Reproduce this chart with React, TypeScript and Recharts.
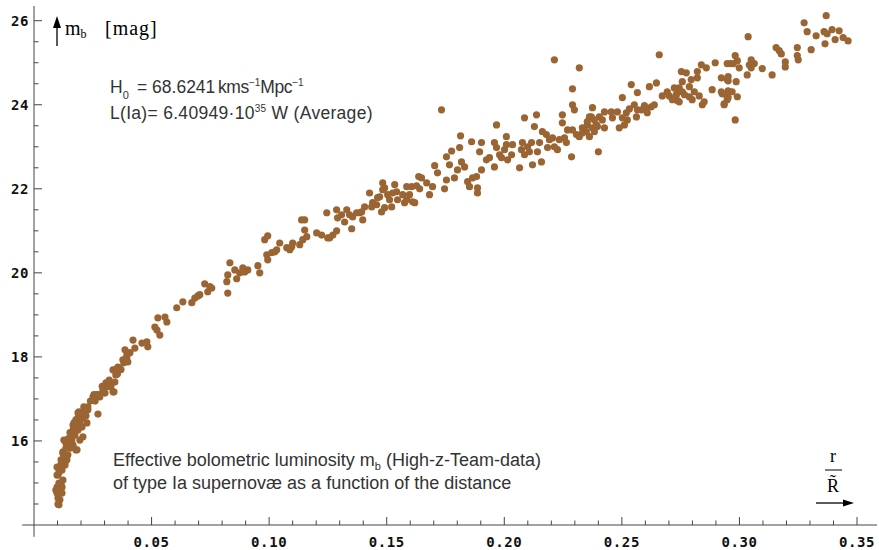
import { ScatterChart, Scatter, XAxis, YAxis, ReferenceLine } from "recharts";

// supernova samples [r / R~, m_b]
const nearSN: [number, number][] = [
  [0.0106, 14.48], [0.0102, 14.5], [0.011, 14.6], [0.0102, 14.64], [0.0098, 14.76], [0.0119, 14.76],
  [0.0093, 14.83], [0.0098, 14.9], [0.0119, 14.9], [0.0115, 14.95], [0.0106, 15.0], [0.0123, 15.07],
  [0.0098, 15.19], [0.0102, 15.19], [0.0106, 15.25], [0.0119, 15.31], [0.0106, 15.36], [0.0098, 15.38],
  [0.0132, 15.43], [0.0115, 15.45], [0.0115, 15.55], [0.014, 15.55], [0.0127, 15.6], [0.0144, 15.67],
  [0.0123, 15.71], [0.0123, 15.74], [0.0178, 15.79], [0.0183, 15.79], [0.0136, 15.83], [0.0153, 15.83],
  [0.0149, 15.9], [0.0166, 15.9], [0.0136, 15.95], [0.0127, 16.02], [0.0161, 16.02], [0.0195, 16.02],
  [0.0144, 16.05], [0.0157, 16.1], [0.0208, 16.1], [0.0174, 16.14], [0.0153, 16.2], [0.0166, 16.26],
  [0.0187, 16.26], [0.017, 16.3], [0.0204, 16.33], [0.0183, 16.35], [0.0166, 16.38], [0.017, 16.43],
  [0.0225, 16.43], [0.0195, 16.45], [0.0178, 16.5], [0.0187, 16.55], [0.0208, 16.55], [0.0208, 16.57],
  [0.02, 16.6], [0.0221, 16.6], [0.0272, 16.64], [0.0187, 16.67], [0.0191, 16.69], [0.0217, 16.69],
  [0.0229, 16.74], [0.0212, 16.81], [0.0229, 16.81], [0.024, 16.95], [0.026, 16.95], [0.0251, 17.05],
  [0.028, 17.05], [0.0255, 17.1], [0.0268, 17.1], [0.0276, 17.1], [0.0302, 17.14], [0.034, 17.17],
  [0.0336, 17.17], [0.0293, 17.21], [0.0327, 17.29], [0.031, 17.29], [0.029, 17.3], [0.0306, 17.38],
  [0.0323, 17.38], [0.0344, 17.4], [0.032, 17.45], [0.0348, 17.57], [0.0355, 17.6], [0.0344, 17.69],
  [0.0336, 17.69], [0.037, 17.7], [0.0361, 17.74], [0.0357, 17.76], [0.0382, 17.86], [0.0399, 17.88],
  [0.0378, 17.93],
];

const midSN: [number, number][] = [
  [0.0395, 18.0], [0.0395, 18.05], [0.0408, 18.1], [0.0387, 18.17], [0.0421, 18.4], [0.0429, 18.21],
  [0.0459, 18.33], [0.048, 18.36], [0.0484, 18.24], [0.0514, 18.71], [0.0523, 18.64], [0.0535, 18.52],
  [0.0527, 18.93], [0.0557, 18.95], [0.0565, 18.83], [0.0607, 19.17], [0.0633, 19.31], [0.0671, 19.29],
  [0.0684, 19.4], [0.0697, 19.45], [0.0705, 19.48], [0.0726, 19.74], [0.0739, 19.55], [0.0748, 19.67],
  [0.0756, 19.64], [0.082, 19.79], [0.0824, 19.95], [0.0824, 19.52], [0.0833, 20.24], [0.0854, 20.07],
  [0.0862, 19.86], [0.0875, 20.0], [0.0888, 20.12], [0.0896, 20.02], [0.0909, 20.07], [0.0952, 20.17],
  [0.096, 20.0], [0.0981, 20.79], [0.0994, 20.88], [0.0994, 20.31], [0.099, 20.43], [0.1011, 20.48],
  [0.1024, 20.5], [0.1032, 20.55], [0.1045, 20.71], [0.1075, 20.6], [0.1088, 20.55], [0.1096, 20.62],
  [0.11, 20.71], [0.113, 20.67], [0.1138, 21.26], [0.1143, 20.79], [0.1151, 21.02], [0.1151, 21.26],
  [0.116, 20.86], [0.1202, 20.95], [0.1223, 20.9], [0.1245, 21.43], [0.1249, 20.83],
];

const farSN: [number, number][] = [
  [0.1257, 20.83], [0.1271, 20.9], [0.1287, 21.5], [0.1287, 21.0], [0.1291, 21.31], [0.1308, 21.38],
  [0.1321, 21.21], [0.133, 21.5], [0.1342, 21.38], [0.1351, 21.05], [0.1355, 21.33], [0.1372, 21.43],
  [0.1385, 21.43], [0.1393, 21.45], [0.1398, 21.26], [0.1406, 21.57], [0.1427, 21.9], [0.1436, 21.57],
  [0.144, 21.67], [0.1457, 21.62], [0.1461, 21.79], [0.147, 21.81], [0.1478, 21.45], [0.1483, 22.14],
  [0.1483, 21.98], [0.1491, 22.02], [0.1491, 21.55], [0.1504, 21.86], [0.1512, 21.74], [0.1521, 21.57],
  [0.1525, 21.9], [0.1534, 22.1], [0.1542, 21.93], [0.1546, 21.74], [0.1568, 21.86], [0.1576, 21.67],
  [0.1585, 22.05], [0.1585, 21.74], [0.1597, 21.86], [0.1606, 22.05], [0.161, 21.69], [0.1619, 21.67],
  [0.1627, 22.07], [0.1636, 22.29], [0.164, 22.0], [0.1648, 22.26],
  [0.167, 22.14], [0.1682, 21.86], [0.1695, 22.05], [0.1704, 22.55], [0.1716, 22.38], [0.1733, 23.88],
  [0.1746, 22.0], [0.1754, 22.21], [0.1754, 22.76], [0.1767, 22.57], [0.1776, 22.9], [0.1788, 22.26],
  [0.1801, 22.45], [0.1814, 23.26], [0.181, 22.98], [0.1818, 22.64], [0.1831, 22.52], [0.1844, 22.17],
  [0.1852, 22.05], [0.1861, 23.12], [0.1865, 22.26], [0.1882, 22.29], [0.1886, 22.02], [0.1886, 21.9],
  [0.1895, 22.88], [0.1903, 23.1], [0.1903, 22.45], [0.1924, 22.69], [0.1937, 22.74], [0.1958, 22.52],
  [0.1958, 23.1], [0.1967, 23.52], [0.1967, 22.98], [0.198, 22.81], [0.1988, 22.74], [0.2001, 22.93],
  [0.2009, 23.24], [0.2009, 23.05], [0.2014, 22.69], [0.2031, 22.81], [0.2035, 23.05], [0.2065, 22.5],
  [0.2073, 22.93], [0.2077, 23.1], [0.2086, 23.69], [0.2086, 22.81], [0.2099, 23.0], [0.2107, 22.88],
  [0.2116, 23.1], [0.212, 22.57], [0.2128, 23.48], [0.2137, 23.76], [0.2141, 22.88], [0.215, 23.1],
  [0.2158, 22.64], [0.2162, 23.36], [0.2179, 23.29], [0.2184, 22.98], [0.2192, 23.17], [0.2205, 23.21],
  [0.2213, 23.0], [0.2213, 25.07], [0.2226, 22.93], [0.2234, 23.17], [0.2247, 23.76], [0.2247, 23.57],
  [0.2256, 23.21], [0.2264, 23.1], [0.2269, 23.4], [0.2286, 22.76], [0.229, 24.38], [0.229, 24.0],
  [0.2298, 23.88], [0.229, 23.4], [0.2307, 23.29], [0.2319, 23.24], [0.2319, 24.88], [0.2332, 23.45],
  [0.2349, 23.36], [0.2353, 23.6], [0.237, 23.71], [0.2375, 23.93], [0.2383, 23.36], [0.2396, 23.48],
  [0.24, 22.88],
];

const farthestSN: [number, number][] = [
  [0.2659, 25.19], [0.2753, 24.79], [0.2774, 24.76], [0.2821, 24.79], [0.2838, 24.95], [0.2859, 24.88],
  [0.2897, 25.0], [0.2948, 24.98], [0.2923, 24.64], [0.2948, 24.6], [0.2795, 24.6], [0.2821, 24.64],
  [0.2757, 24.55], [0.2744, 24.4], [0.2723, 24.4], [0.2787, 24.43], [0.2757, 24.31], [0.2736, 24.31],
  [0.2693, 24.31], [0.2672, 24.21], [0.2702, 24.21], [0.2715, 24.12], [0.2736, 24.1], [0.2732, 24.24],
  [0.2744, 24.07], [0.2766, 24.24], [0.2787, 24.19], [0.2799, 24.12], [0.2808, 24.31], [0.2829, 24.21],
  [0.285, 24.07], [0.2842, 24.0], [0.2884, 24.36], [0.2923, 24.31], [0.2944, 24.24], [0.2935, 24.0],
  [0.2948, 24.12], [0.2617, 24.43], [0.2647, 24.52], [0.2566, 24.29], [0.254, 24.48], [0.2502, 24.17],
  [0.2553, 24.0], [0.2566, 23.88], [0.2532, 23.9], [0.2596, 23.98], [0.2608, 23.81], [0.2625, 23.95],
  [0.2638, 24.0], [0.2604, 23.88], [0.2583, 23.88], [0.2562, 23.71], [0.2519, 23.81], [0.2523, 23.64],
  [0.2502, 23.69], [0.2481, 23.83], [0.2455, 23.83], [0.246, 23.69], [0.2426, 23.83], [0.2417, 23.64],
  [0.2404, 23.71], [0.2383, 23.64], [0.2362, 23.71], [0.2353, 23.52], [0.2375, 23.45], [0.2392, 23.52],
  [0.2426, 23.45], [0.2332, 23.33], [0.2362, 23.24], [0.2489, 23.45], [0.2511, 23.52],
  [0.3369, 26.12], [0.3275, 25.95], [0.3288, 25.74], [0.3326, 25.64], [0.336, 25.74], [0.3373, 25.69],
  [0.3394, 25.79], [0.3424, 25.76], [0.3407, 25.55], [0.3441, 25.6], [0.3462, 25.52], [0.3364, 25.45],
  [0.3246, 25.36], [0.3305, 25.31], [0.3246, 25.17], [0.325, 25.07], [0.3156, 25.36], [0.3169, 25.29],
  [0.3178, 25.21], [0.3195, 25.02], [0.3195, 24.9], [0.3139, 24.71], [0.3097, 24.86], [0.3037, 25.62],
  [0.2982, 25.17], [0.2991, 25.05], [0.2961, 24.98], [0.2974, 24.98], [0.2999, 24.88], [0.305, 25.07],
  [0.3042, 24.95], [0.3063, 24.98], [0.305, 24.88], [0.3033, 24.71], [0.2952, 24.67], [0.2952, 24.57],
  [0.2986, 24.55], [0.2927, 24.26], [0.2952, 24.33], [0.2969, 24.31], [0.2952, 24.17], [0.2991, 24.19],
  [0.2935, 24.02], [0.2982, 23.64],
];

const xTicks = [
  0.01, 0.02, 0.03, 0.04, 0.05, 0.06, 0.07, 0.08, 0.09, 0.1, 0.11, 0.12, 0.13, 0.14, 0.15, 0.16, 0.17, 0.18,
  0.19, 0.2, 0.21, 0.22, 0.23, 0.24, 0.25, 0.26, 0.27, 0.28, 0.29, 0.3, 0.31, 0.32, 0.33, 0.34, 0.35,
];
const xLabels = [0.05, 0.1, 0.15, 0.2, 0.25, 0.3, 0.35];
const yTicks = [
  14.5, 15, 15.5, 16, 16.5, 17, 17.5, 18, 18.5, 19, 19.5, 20, 20.5, 21, 21.5, 22, 22.5, 23, 23.5, 24, 24.5,
  25, 25.5, 26,
];
const yLabels = [16, 18, 20, 22, 24, 26];

const points = [...nearSN, ...midSN, ...farSN, ...farthestSN].map(([r, m]) => ({ r, m }));

const AXIS = "#444";
const DOT = "#9b6533";
const TICK_FONT = "'DejaVu Sans Mono', monospace";

const isLabel = (list: number[], v: number) => list.some((l) => Math.abs(l - v) < 1e-6);

function XTick({ x, y, payload }: any) {
  const major = isLabel(xLabels, payload.value);
  return (
    <g>
      <line x1={x} x2={x} y1={y} y2={y - (major ? 8 : 4.5)} stroke={AXIS} />
      {major && (
        <text x={x} y={y + 22} textAnchor="middle" fontFamily={TICK_FONT} fontWeight="bold" fontSize={14} letterSpacing={0.6} fill="#111">
          {payload.value.toFixed(2)}
        </text>
      )}
    </g>
  );
}

function YTick({ x, y, payload }: any) {
  const major = isLabel(yLabels, payload.value);
  return (
    <g>
      <line x1={x} x2={x + (major ? 8 : 4.5)} y1={y} y2={y} stroke={AXIS} />
      {major && (
        <text x={x - 5} y={y + 5} textAnchor="end" fontFamily={TICK_FONT} fontWeight="bold" fontSize={14} letterSpacing={0.6} fill="#111">
          {payload.value}
        </text>
      )}
    </g>
  );
}

const Dot = (props: any) => <circle cx={props.cx} cy={props.cy} r={3.6} fill={DOT} />;

const sans = "'Liberation Sans', Arial, sans-serif";
const serif = "'Liberation Serif', 'Times New Roman', serif";

export default function App() {
  return (
    <div style={{ position: "absolute", left: 0, top: 0, width: 879, height: 550, background: "#fff" }}>
      <ScatterChart width={879} height={550} margin={{ top: 6, right: 2, bottom: 0, left: 0 }}>
        <XAxis
          type="number"
          dataKey="r"
          domain={[0, 0.3585]}
          ticks={xTicks}
          interval={0}
          tickSize={0}
          tickMargin={0}
          height={25}
          tick={<XTick />}
          axisLine={{ stroke: AXIS }}
          allowDataOverflow
        />
        <YAxis
          type="number"
          dataKey="m"
          domain={[14, 26.35]}
          ticks={yTicks}
          interval={0}
          tickSize={0}
          tickMargin={0}
          width={34}
          tick={<YTick />}
          axisLine={{ stroke: AXIS }}
          allowDataOverflow
        />
        <ReferenceLine segment={[{ x: -0.005, y: 14 }, { x: 0, y: 14 }]} stroke={AXIS} ifOverflow="visible" />
        <ReferenceLine segment={[{ x: 0, y: 13.72 }, { x: 0, y: 14 }]} stroke={AXIS} ifOverflow="visible" />
        <Scatter data={points} shape={Dot} isAnimationActive={false} />
      </ScatterChart>

      <svg width={879} height={550} style={{ position: "absolute", left: 0, top: 0, pointerEvents: "none" }}>
        {/* y axis label */}
        <line x1={57} x2={57} y1={46} y2={26} stroke="#000" strokeWidth={1.3} />
        <polygon points="57,16 53,28 61,28" fill="#000" />
        <text x={65} y={35} fontFamily={serif} fontSize={20} fill="#000">
          m<tspan fontSize={12} dy={3}>b</tspan>
          <tspan x={105} dy={-3} letterSpacing={1}>[mag]</tspan>
        </text>

        {/* parameters */}
        <g fontFamily={sans} fill="#333" fontSize={17.5}>
          <text x={110} y={93}>
            H<tspan fontSize={11} dy={6}>0</tspan>
            <tspan x={137} dy={-6}>= 68.6241</tspan>
            <tspan x={218} letterSpacing={-0.4}>kms</tspan>
            <tspan fontSize={10} dy={-7}>−1</tspan>
            <tspan dy={7} letterSpacing={-0.4}>Mpc</tspan>
            <tspan fontSize={10} dy={-7}>−1</tspan>
          </text>
          <text x={110} y={119} letterSpacing={0.3}>
            L(Ia)= 6.40949·10<tspan fontSize={10} dy={-7}>35</tspan>
            <tspan dy={7}> W (Average)</tspan>
          </text>
        </g>

        {/* caption */}
        <g fontFamily={sans} fill="#333" fontSize={18}>
          <text x={113} y={466}>
            Effective bolometric luminosity m<tspan fontSize={11} dy={4}>b</tspan>
            <tspan dy={-4}> (High-z-Team-data)</tspan>
          </text>
          <text x={113} y={489}>of type Ia supernovæ as a function of the distance</text>
        </g>

        {/* x axis label */}
        <text x={833} y={462} fontFamily={serif} fontSize={18} textAnchor="middle" fill="#000">r</text>
        <line x1={825} x2={842} y1={470} y2={470} stroke="#000" strokeWidth={1} />
        <text x={833} y={492} fontFamily={serif} fontSize={18} textAnchor="middle" fill="#000">R̃</text>
        <line x1={816} x2={846} y1={503} y2={503} stroke="#000" strokeWidth={1.3} />
        <polygon points="854,503 843,499.5 843,506.5" fill="#000" />
      </svg>
    </div>
  );
}
